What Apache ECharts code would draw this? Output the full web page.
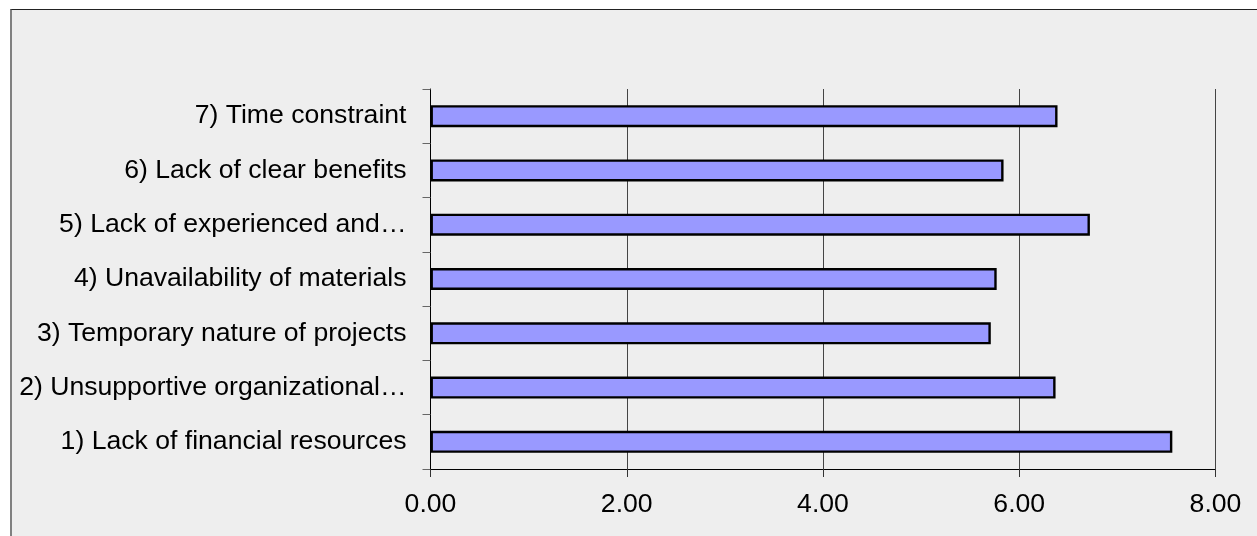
<!DOCTYPE html>
<html>
<head>
<meta charset="utf-8">
<script src="https://cdn.jsdelivr.net/npm/echarts@6/dist/echarts.min.js"></script>
<style>
  html, body { margin: 0; padding: 0; background: #ffffff; }
  #frame {
    position: absolute; left: 10px; top: 9px; width: 1247px; height: 527px;
    background: #eeeeee; border-top: 1px solid #222222; border-left: 2px solid #808080;
    box-sizing: border-box;
  }
  #chart { position: absolute; left: 0; top: 0; width: 1257px; height: 536px; }
</style>
</head>
<body>
<div id="frame"></div>
<div id="chart"></div>
<script>
// Barriers, listed bottom to top on the category axis
const categories = [
  '1) Lack of financial resources',
  '2) Unsupportive organizational\u2026',
  '3) Temporary nature of projects',
  '4) Unavailability of materials',
  '5) Lack of experienced and\u2026',
  '6) Lack of clear benefits',
  '7) Time constraint'
];
// Mean score for each barrier
const scores = [7.56, 6.37, 5.71, 5.77, 6.72, 5.84, 6.39];
// Value axis range
const axisMin = 0;
const axisMax = 8;
const axisStep = 2;

const chart = echarts.init(document.getElementById('chart'), null, { renderer: 'canvas' });
const font = '"Liberation Sans", Arial, sans-serif';

chart.setOption({
  backgroundColor: 'transparent',
  animation: false,
  grid: { left: 430.5, right: 41.5, top: 89, bottom: 67, containLabel: false },
  xAxis: {
    type: 'value',
    min: axisMin,
    max: axisMax,
    interval: axisStep,
    axisLine: { show: true, lineStyle: { color: '#000', width: 1 } },
    axisTick: { show: true, length: 8, lineStyle: { color: '#333', width: 1 } },
    axisLabel: {
      color: '#000', fontFamily: font, fontSize: 26.6, margin: 22,
      formatter: v => v.toFixed(2)
    },
    splitLine: { show: true, lineStyle: { color: '#444', width: 1 } }
  },
  yAxis: {
    type: 'category',
    data: categories,
    axisLine: { show: true, lineStyle: { color: '#000', width: 1 } },
    axisTick: { show: true, length: 8, lineStyle: { color: '#666', width: 1 } },
    axisLabel: { color: '#000', fontFamily: font, fontSize: 26.6, margin: 24, padding: [3, 0, 0, 0] },
    splitLine: { show: false }
  },
  series: [{
    type: 'bar',
    data: scores,
    barWidth: 22,
    itemStyle: { color: '#9999ff', borderColor: '#000', borderWidth: 2.4 }
  }]
});
</script>
</body>
</html>
